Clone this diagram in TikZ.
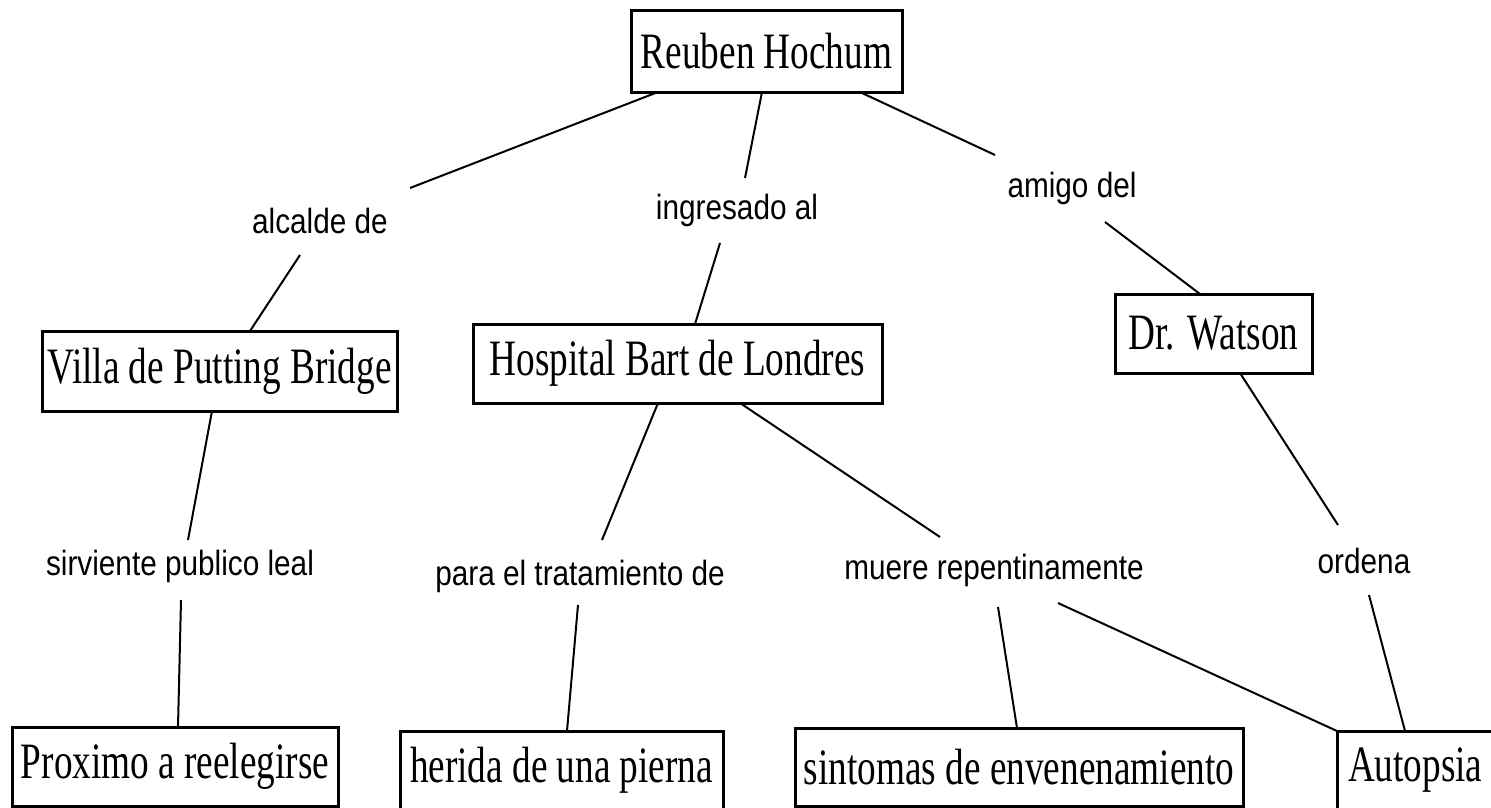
\documentclass[tikz,border=0pt]{standalone}
\usepackage{fontspec}
\newfontfamily\boxfont[FakeStretch=0.73]{Liberation Serif}
\newfontfamily\lblfont[FakeStretch=0.85]{Liberation Sans}
\begin{document}
\begin{tikzpicture}[x=1pt,y=-1pt,
  concept/.style={draw=black,line width=3pt,inner sep=0pt,font=\boxfont\fontsize{51}{60}\selectfont},
  linklabel/.style={inner sep=0pt,font=\lblfont\fontsize{35}{42}\selectfont},
  conn/.style={line width=2pt,black}]
\useasboundingbox (0,0) rectangle (1491,807);
\clip (0,0) rectangle (1491,807);
\fill[white] (0,0) rectangle (1491,807);
% concepts
\node[concept,minimum width=271pt,minimum height=82pt] (R) at (766.5,51) {Reuben Hochum};
\node[concept,minimum width=355pt,minimum height=80pt] (V) at (219.5,371) {Villa de Putting Bridge};
\node[concept,minimum width=409pt,minimum height=79pt] (H) at (677.5,363.5) {Hospital Bart de Londres};
\node[concept,minimum width=197pt,minimum height=79pt] (W) at (1213.5,333.5) {Dr. Watson};
\node[concept,minimum width=326pt,minimum height=79pt] (P) at (175,766.5) {Proximo a reelegirse};
\node[concept,minimum width=323pt,minimum height=79pt] (He) at (561.5,770.5) {herida de una pierna};
\node[concept,minimum width=448pt,minimum height=78pt] (S) at (1019,767) {sintomas de envenenamiento};
\node[concept,minimum width=200pt,minimum height=79pt,text width=178pt,align=left] (A) at (1437,770.5) {Autopsia};
% link labels
\node[linklabel] (alc) at (320,221) {alcalde de};
\node[linklabel] (ing) at (737,210) {ingresado al};
\node[linklabel] (ami) at (1072,188) {amigo del};
\node[linklabel] (sir) at (180,566) {sirviente publico leal};
\node[linklabel] (para) at (580,576) {para el tratamiento de};
\node[linklabel] (mue) at (994,570) {muere repentinamente};
\node[linklabel] (ord) at (1364,561) {ordena};
% connectors
\draw[conn] ([shift={(-108.5,41)}]R.center) -- ([shift={(90,-33)}]alc.center);
\draw[conn] ([shift={(-20,34)}]alc.center) -- ([shift={(30.5,-40)}]V.center);
\draw[conn] ([shift={(-4.5,41)}]R.center) -- ([shift={(8,-32)}]ing.center);
\draw[conn] ([shift={(-17,33)}]ing.center) -- ([shift={(17.5,-39.5)}]H.center);
\draw[conn] ([shift={(95.5,42)}]R.center) -- ([shift={(-77,-33)}]ami.center);
\draw[conn] ([shift={(33,34)}]ami.center) -- ([shift={(-13.5,-39.5)}]W.center);
\draw[conn] ([shift={(-7.5,40)}]V.center) -- ([shift={(8,-26)}]sir.center);
\draw[conn] ([shift={(1,34)}]sir.center) -- ([shift={(3,-39.5)}]P.center);
\draw[conn] ([shift={(-19.5,39.5)}]H.center) -- ([shift={(22,-36)}]para.center);
\draw[conn] ([shift={(-2,29)}]para.center) -- ([shift={(5.5,-39.5)}]He.center);
\draw[conn] ([shift={(62.5,39.5)}]H.center) -- ([shift={(-54,-33)}]mue.center);
\draw[conn] ([shift={(4,37)}]mue.center) -- ([shift={(-2,-39)}]S.center);
\draw[conn] ([shift={(64,33)}]mue.center) -- ([shift={(-100,-39.5)}]A.center);
\draw[conn] ([shift={(26.5,39.5)}]W.center) -- ([shift={(-26,-36)}]ord.center);
\draw[conn] ([shift={(5,34)}]ord.center) -- ([shift={(-32,-39.5)}]A.center);
\end{tikzpicture}
\end{document}
